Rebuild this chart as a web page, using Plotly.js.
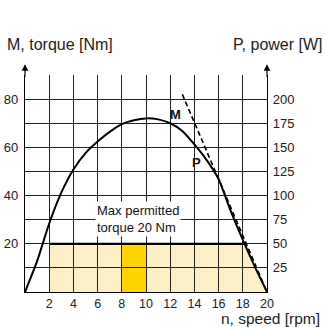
<!DOCTYPE html>
<html><head><meta charset="utf-8">
<script src="https://cdn.plot.ly/plotly-3.0.1.min.js"></script>
<style>html,body{margin:0;padding:0;background:#fff}#chart{width:327px;height:327px}</style>
</head><body><div id="chart"></div>
<script>
// Power curve (right axis, W) vs speed (rpm)
const powerSpeed = [0, 1, 2, 3, 4, 5, 6, 7, 8, 9, 10, 11, 12, 13, 14, 15, 16, 17, 18, 19, 20];
const powerW     = [0, 32, 71, 103, 127, 144, 156, 166, 174, 178, 180, 179, 175, 167, 153, 137, 117, 84, 54, 26, 0];
// Torque line (left axis, Nm) vs speed
const torqueSpeed = [13.0, 20];
const torqueNm    = [82, 0];
// Permitted region
const maxTorque = 20;
const permittedStart = 2;
const highlightSpeed = [8, 10];
// Ticks
const xTicks  = [2, 4, 6, 8, 10, 12, 14, 16, 18, 20];
const yGrid   = [10, 20, 30, 40, 50, 60, 70, 80, 90];
const yLabels = ['', '20', '', '40', '', '60', '', '80', ''];
const y2Ticks = [25, 50, 75, 100, 125, 150, 175, 200];

// where the torque line reaches the max permitted torque
const t0 = torqueNm[0], t1 = torqueNm[1];
const permittedEnd = torqueSpeed[0] + (t0 - maxTorque) / (t0 - t1) * (torqueSpeed[1] - torqueSpeed[0]);

const font = 'Liberation Sans, Arial, Helvetica, sans-serif';
const txt = '#222';

const traces = [
  {x: [permittedStart, permittedEnd], y: [maxTorque, maxTorque], mode: 'lines',
   line: {color: '#000', width: 2.2}, yaxis: 'y', hoverinfo: 'skip'},
  {x: torqueSpeed, y: torqueNm, mode: 'lines', line: {color: '#000', width: 1.6, dash: '5px,3px'}, yaxis: 'y', hoverinfo: 'skip'},
  {x: powerSpeed, y: powerW, mode: 'lines', line: {color: '#000', width: 2, shape: 'spline', smoothing: 0.6}, yaxis: 'y2', hoverinfo: 'skip'}
];

const shapes = [
  {type: 'path', xref: 'x', yref: 'y', layer: 'below', line: {width: 0}, fillcolor: '#fdf0c6',
   path: `M${permittedStart},0 L${permittedStart},${maxTorque} L${permittedEnd},${maxTorque} L${torqueSpeed[1]},${torqueNm[1]} Z`},
  {type: 'rect', xref: 'x', yref: 'y', layer: 'below', line: {width: 0}, fillcolor: '#ffd400',
   x0: highlightSpeed[0], x1: highlightSpeed[1], y0: 0, y1: maxTorque}
];

const arrow = {text: '', showarrow: true, arrowhead: 2, arrowsize: 1.1, arrowwidth: 1.2, arrowcolor: '#000', standoff: 0};
const annotations = [
  Object.assign({}, arrow, {xref: 'x', yref: 'paper', x: 0, y: 1.05, ax: 0, ay: 14}),
  Object.assign({}, arrow, {xref: 'x', yref: 'paper', x: 20, y: 1.05, ax: 0, ay: 14}),
  Object.assign({}, arrow, {xref: 'x', yref: 'y', x: 20.85, y: 0, ax: -12, ay: 0}),
  {xref: 'paper', yref: 'paper', x: -0.083, y: 1.14, xanchor: 'left', yanchor: 'middle', showarrow: false,
   text: 'M, torque [Nm]', font: {family: font, size: 16, color: txt}},
  {xref: 'paper', yref: 'paper', x: 1.24, y: 1.14, xanchor: 'right', yanchor: 'middle', showarrow: false,
   text: 'P, power [W]', font: {family: font, size: 16, color: txt}},
  {xref: 'paper', yref: 'paper', x: 1.228, y: -0.122, xanchor: 'right', yanchor: 'middle', showarrow: false,
   text: 'n, speed [rpm]', font: {family: font, size: 15.5, color: txt}},
  {xref: 'x', yref: 'y', x: 5.8, y: 30.3, xanchor: 'left', yanchor: 'middle', showarrow: false, align: 'left',
   text: 'Max permitted<br>torque 20 Nm', bgcolor: '#fff', borderpad: 1, font: {family: font, size: 13, color: '#111'}},
  {xref: 'x', yref: 'y', x: 12.45, y: 73.6, showarrow: false, text: '<b>M</b>', font: {family: font, size: 13, color: '#111'}},
  {xref: 'x', yref: 'y', x: 14.2, y: 53.7, showarrow: false, text: '<b>P</b>', font: {family: font, size: 13, color: '#111'}}
];

const layout = {
  width: 327, height: 327,
  margin: {l: 25, r: 60, t: 75, b: 35},
  paper_bgcolor: '#fff', plot_bgcolor: '#fff',
  showlegend: false,
  font: {family: font, size: 13, color: txt},
  xaxis: {range: [0, 20], tickvals: xTicks, showgrid: true, gridcolor: '#222', gridwidth: 1,
          zeroline: false, showline: true, linecolor: '#000', linewidth: 1.2, ticks: 'outside', ticklen: 0.01,
          tickfont: {family: font, size: 12.5, color: txt}, fixedrange: true},
  yaxis: {range: [0, 90], tickvals: yGrid, ticktext: yLabels, showgrid: true, gridcolor: '#222', gridwidth: 1,
          zeroline: false, showline: true, linecolor: '#000', linewidth: 1.2, ticks: '',
          ticklabelstandoff: 3, tickfont: {family: font, size: 13, color: txt}, fixedrange: true},
  yaxis2: {range: [0, 225], tickvals: y2Ticks, overlaying: 'y', side: 'right', showgrid: false,
           zeroline: false, showline: true, linecolor: '#000', linewidth: 1.2, ticks: '',
           ticklabelstandoff: 2, tickfont: {family: font, size: 13, color: txt}, fixedrange: true},
  shapes: shapes,
  annotations: annotations
};

Plotly.newPlot('chart', traces, layout, {staticPlot: true, displayModeBar: false});
</script></body></html>
